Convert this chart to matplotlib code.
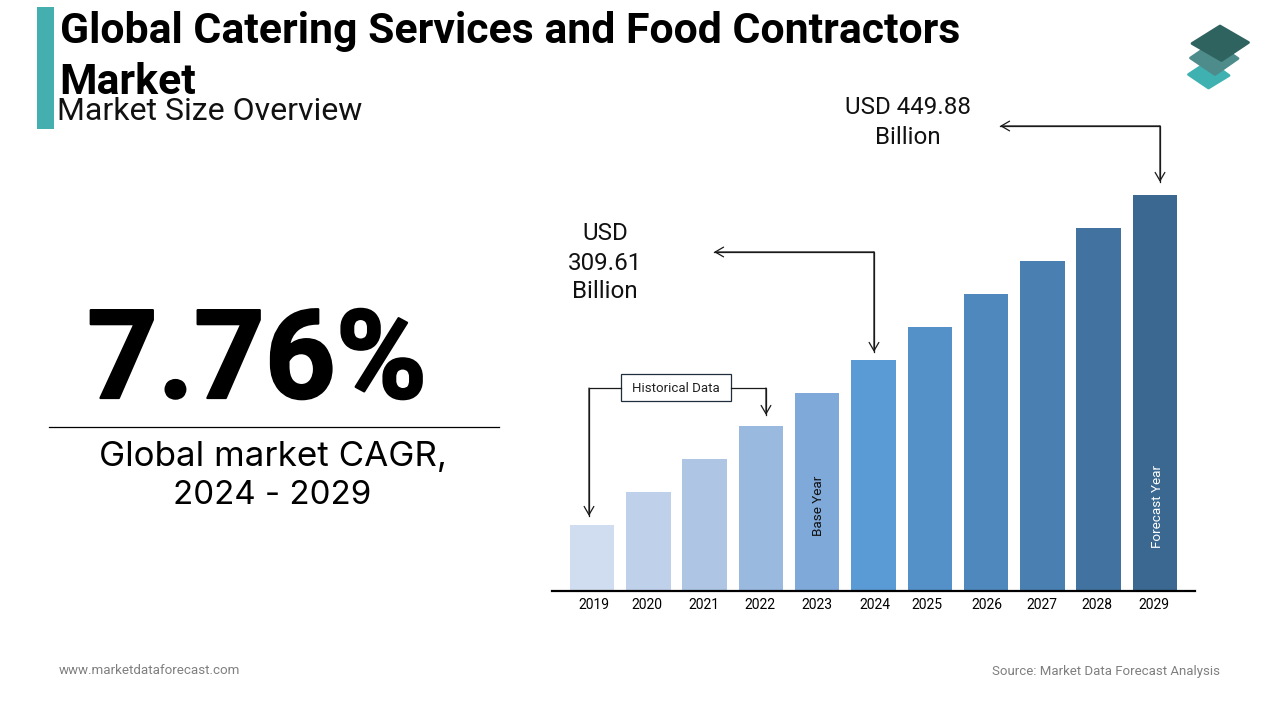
import matplotlib
matplotlib.use("Agg")
import matplotlib.pyplot as plt
import matplotlib.patheffects as pe
from matplotlib.patches import Polygon, Rectangle

years = ['2019', '2020', '2021', '2022', '2023', '2024', '2025', '2026', '2027', '2028', '2029']
# bar heights (the source chart has no value axis)
bar_heights = [65, 98, 131, 164, 197, 230, 263, 296, 329, 362, 395]
bar_colors = ['#D0DDF0', '#BFD1EA', '#AEC6E3', '#99B9DF', '#7FA9D9', '#5B9BD5',
              '#5591C9', '#4F88BD', '#4A7FB1', '#4273A0', '#3A6890']
# the year labels are not quite centred under their bars in the original (pixels)
label_nudge = [2, -1, -1, -1, 0, 1, -3, 1, -1, -2, -1]

plt.rcParams['font.family'] = ['Roboto', 'DejaVu Sans']

W, H = 1280, 720
fig = plt.figure(figsize=(12.8, 7.2), dpi=100, facecolor='white')

# bars
ax = fig.add_axes([552 / W, (H - 590) / H, 643 / W, 430 / H])
x = list(range(len(years)))
ax.bar(x, bar_heights, width=0.79, color=bar_colors, linewidth=0)
ax.set_xlim(-0.71, 10.71)
ax.set_ylim(0, 430)
ax.set_xticks([i + n / 56.3 for i, n in zip(x, label_nudge)])
ax.set_xticklabels(years, fontsize=9.4, color='#333333')
ax.tick_params(axis='x', length=0, pad=5)
ax.set_yticks([])
for side in ['top', 'left', 'right']:
    ax.spines[side].set_visible(False)
ax.spines['bottom'].set_linewidth(1.6)
ax.spines['bottom'].set_color('black')
ax.spines['bottom'].set_position(('outward', 1))
ax.patch.set_alpha(0)
ax.text(4.02, 84, 'Base Year', rotation=90, ha='center', va='center', fontsize=9.7, color='#111111')
ax.text(10.05, 84, 'Forecast Year', rotation=90, ha='center', va='center', fontsize=9.7, color='white')

# overlay in pixel coordinates for the text and decoration
ov = fig.add_axes([0, 0, 1, 1])
ov.set_xlim(0, W)
ov.set_ylim(H, 0)
ov.axis('off')
ov.patch.set_alpha(0)

ov.add_patch(Rectangle((37, 7), 17, 122, color='#45AEAE', linewidth=0))
ov.text(59.5, 32, 'Global Catering Services and Food Contractors', fontsize=30.8, fontweight='bold',
        va='center', color='black')
ov.text(59.5, 82.5, 'Market', fontsize=30.8, fontweight='bold', va='center', color='black')
ov.text(57, 112, 'Market Size Overview', fontsize=23, va='center', color='#111111')

big = ov.text(257, 398, '7.76%', fontsize=89, fontweight='bold', ha='center', va='baseline', color='black')
big.set_path_effects([pe.withStroke(linewidth=1.6, foreground='black')])
ov.plot([49, 499], [427, 427], color='black', lw=0.9)
ov.text(273, 457, 'Global market CAGR,', fontsize=25.2, family=['Inter', 'DejaVu Sans'],
        ha='center', va='center', color='black')
ov.text(272, 496, '2024 - 2029', fontsize=23.8, family=['Inter', 'DejaVu Sans'],
        ha='center', va='center', color='black')

ov.text(908, 108, 'USD 449.88', fontsize=17.4, ha='center', va='center', color='#111111')
ov.text(908, 138, 'Billion', fontsize=17.4, ha='center', va='center', color='#111111')
ov.text(605, 234, 'USD', fontsize=17.4, ha='center', va='center', color='#111111')
ov.text(605, 263, '309.61', fontsize=17.4, ha='center', va='center', color='#111111')
ov.text(605, 291, 'Billion', fontsize=17.4, ha='center', va='center', color='#111111')


def arrow(points, both=False):
    xs = [p[0] for p in points]
    ys = [p[1] for p in points]
    ov.plot(xs, ys, color='#1A1A1A', lw=0.9, solid_joinstyle='miter')
    style = dict(arrowstyle='->,head_length=0.6,head_width=0.35', color='#1A1A1A', lw=0.9,
                 shrinkA=0, shrinkB=0)
    ov.annotate('', xy=points[-1], xytext=points[-2], arrowprops=style)
    if both:
        ov.annotate('', xy=points[0], xytext=points[1], arrowprops=style)


arrow([(1000, 126), (1160, 126), (1160, 182)], both=True)
arrow([(714, 252), (874, 252), (874, 352)], both=True)
arrow([(621, 388), (589, 388), (589, 516)])
arrow([(731, 388), (766, 388), (766, 415)])
ov.add_patch(Rectangle((621, 374), 110, 27, facecolor='white', edgecolor='#1F2D3D', lw=0.9))
ov.text(676, 388, 'Historical Data', fontsize=9.5, ha='center', va='center', color='#222222')

# logo
for pts, col in [
    ([(1209, 61), (1229, 75.5), (1208.5, 88), (1188.5, 74.5)], '#3FB1B1'),
    ([(1214, 42), (1238, 58.5), (1215, 74.5), (1190.5, 58)], '#4E8C8C'),
    ([(1220, 26), (1248.5, 42.5), (1221.5, 60.5), (1192, 43.5)], '#2F6360'),
]:
    ov.add_patch(Polygon(pts, closed=True, facecolor=col, edgecolor=col, lw=2, joinstyle='round'))

ov.text(59, 671, 'www.marketdataforecast.com', fontsize=9.6, va='center', color='#7F7F7F')
ov.text(1220, 671, 'Source: Market Data Forecast Analysis', fontsize=9.55, va='center', ha='right',
        color='#7F7F7F')

fig.savefig('out.png', dpi=100)
